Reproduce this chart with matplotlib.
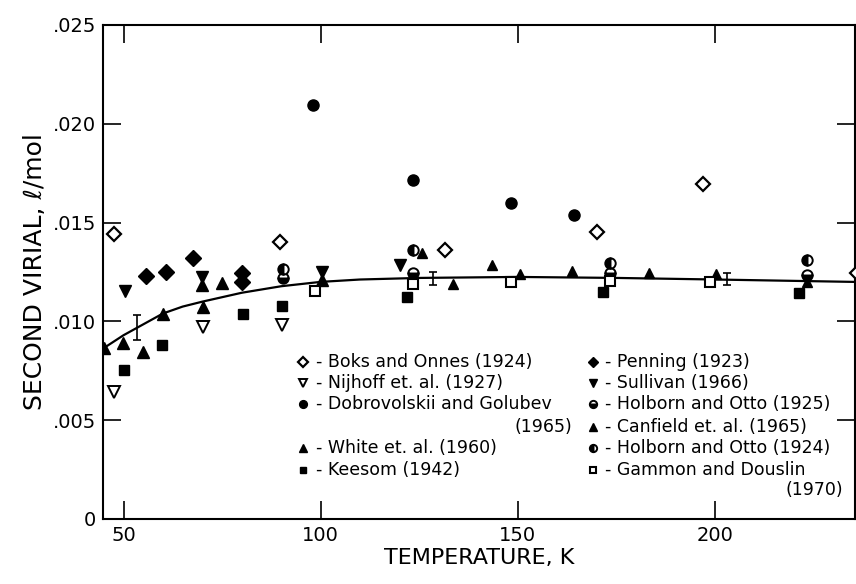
import numpy as np
import matplotlib.pyplot as plt

plt.rcParams['font.family'] = 'DejaVu Sans'

# smooth curve
curve_T = [45, 50, 55, 60, 65, 70, 80, 90, 100, 110, 125, 150, 175, 200, 235]
curve_B = [0.00865, 0.0093, 0.00985, 0.0104, 0.01075, 0.0110, 0.01145, 0.01178,
           0.0120, 0.01212, 0.0122, 0.01225, 0.0122, 0.01212, 0.0120]

boks_T = [47.5, 89.6, 131.5, 170, 197, 236]
boks_B = [0.01442, 0.0140, 0.01361, 0.01452, 0.01695, 0.01245]

nijhoff_T = [47.7, 70.1, 90.1]
nijhoff_B = [0.00643, 0.00972, 0.00982]

dobro_T = [98, 123.4, 148.2, 164.2]
dobro_B = [0.02095, 0.01715, 0.0160, 0.0154]

white_T = [45, 49.8, 54.9, 59.9, 69.8, 70.1, 75.1, 100.3]
white_B = [0.00865, 0.0089, 0.00845, 0.01037, 0.01184, 0.01073, 0.01194, 0.0121]

keesom_T = [50, 59.7, 80.2, 90.1, 121.8, 171.6, 221.3]
keesom_B = [0.00754, 0.0088, 0.01037, 0.01078, 0.01123, 0.01149, 0.01144]

penning_T = [55.8, 60.9, 67.5, 80, 80]
penning_B = [0.0123, 0.0125, 0.0132, 0.01245, 0.0120]

sullivan_T = [50.5, 69.8, 100.3, 120]
sullivan_B = [0.01155, 0.01225, 0.0125, 0.01285]

holb25_T = [90.4, 123.4, 173.3, 223.4]
holb25_B = [0.0122, 0.01245, 0.01245, 0.01235]

canfield_T = [125.6, 133.5, 143.4, 150.5, 163.7, 183.2, 200.2, 223.4]
canfield_B = [0.01346, 0.0119, 0.01285, 0.0124, 0.01255, 0.01245, 0.0124, 0.0120]

holb24_T = [90.4, 123.4, 173.3, 223.4]
holb24_B = [0.01265, 0.01361, 0.01295, 0.0131]

gammon_T = [98.5, 123.4, 148.2, 173.3, 198.7]
gammon_B = [0.01154, 0.0119, 0.0120, 0.01204, 0.0120]

err_T = [53.3, 128.4, 203]
err_lo = [0.00906, 0.01184, 0.01184]
err_hi = [0.01032, 0.0125, 0.01245]

xticks = [50, 100, 150, 200]
yticks = [0, 0.005, 0.010, 0.015, 0.020, 0.025]
ytick_labels = ['0', '.005', '.010', '.015', '.020', '.025']

fig = plt.figure(figsize=(8.56, 5.84), dpi=100)
ax = fig.add_axes([103/856, 1 - 519/584, 752/856, 494/584])

ax.plot(curve_T, curve_B, color='black', lw=1.6, zorder=2)

k = 'black'
styles = [
    (boks_T, boks_B, dict(marker='D', ms=7.5, mfc='white', mec=k, mew=1.6), 'Boks and Onnes (1924)'),
    (nijhoff_T, nijhoff_B, dict(marker='v', ms=8, mfc='white', mec=k, mew=1.4), 'Nijhoff et. al. (1927)'),
    (dobro_T, dobro_B, dict(marker='o', ms=8, mfc=k, mec=k), 'Dobrovolskii and Golubev'),
    (white_T, white_B, dict(marker='^', ms=9, mfc=k, mec=k), 'White et. al. (1960)'),
    (keesom_T, keesom_B, dict(marker='s', ms=7, mfc=k, mec=k), 'Keesom (1942)'),
    (penning_T, penning_B, dict(marker='D', ms=8, mfc=k, mec=k), 'Penning (1923)'),
    (sullivan_T, sullivan_B, dict(marker='v', ms=9, mfc=k, mec=k), 'Sullivan (1966)'),
    (holb25_T, holb25_B, dict(marker='o', ms=7.5, fillstyle='bottom', mfc=k, mfcalt='white', mec=k, mew=1.4), 'Holborn and Otto (1925)'),
    (canfield_T, canfield_B, dict(marker='^', ms=7.5, mfc=k, mec=k), 'Canfield et. al. (1965)'),
    (holb24_T, holb24_B, dict(marker='o', ms=7.5, fillstyle='left', mfc=k, mfcalt='white', mec=k, mew=1.4), 'Holborn and Otto (1924)'),
    (gammon_T, gammon_B, dict(marker='s', ms=7, mfc='white', mec=k, mew=1.5), 'Gammon and Douslin'),
]
for T, B, st, lab in styles:
    ax.plot(T, B, ls='none', zorder=3, **st)

ax.errorbar(err_T, [(a + b) / 2 for a, b in zip(err_lo, err_hi)],
            yerr=[[(b - a) / 2 for a, b in zip(err_lo, err_hi)]] * 2,
            fmt='none', ecolor=k, elinewidth=1.2, capsize=3, capthick=1.2, zorder=3)

ax.set_xlim(44.8, 235.5)
ax.set_ylim(0, 0.025)
ax.set_xticks(xticks)
ax.set_xticklabels([str(t) for t in xticks], fontsize=14)
ax.set_yticks(yticks)
ax.set_yticklabels(ytick_labels, fontsize=14)
ax.tick_params(direction='in', length=13, width=1.2, top=True, right=True, pad=5)
for sp in ax.spines.values():
    sp.set_linewidth(1.5)

ax.set_xlabel('TEMPERATURE, K', fontsize=16, labelpad=2)
ax.set_ylabel('SECOND VIRIAL, ℓ/mol', fontsize=18, labelpad=4)

# hand drawn legend, two columns
fs = 12.5
rows = [0.3178, 0.2753, 0.2328, 0.1437, 0.0992]
rows_r = [0.3178, 0.2753, 0.2328, 0.1862, 0.1437, 0.0992]
left = styles[:5]
right = styles[5:]
for (T, B, st, lab), y in zip(left, rows):
    s = dict(st)
    s['ms'] = st['ms'] * 0.7
    ax.plot([0.266], [y], transform=ax.transAxes, ls='none', clip_on=False, **s)
    ax.text(0.283, y, '- ' + lab, transform=ax.transAxes, fontsize=fs, va='center', ha='left')
ax.text(0.6237, 0.1862, '(1965)', transform=ax.transAxes, fontsize=fs, va='center', ha='right')
for (T, B, st, lab), y in zip(right, rows_r):
    s = dict(st)
    s['ms'] = st['ms'] * 0.7
    ax.plot([0.6516], [y], transform=ax.transAxes, ls='none', clip_on=False, **s)
    ax.text(0.668, y, '- ' + lab, transform=ax.transAxes, fontsize=fs, va='center', ha='left')
ax.text(0.984, 0.0587, '(1970)', transform=ax.transAxes, fontsize=fs, va='center', ha='right')

fig.savefig('out.png', dpi=100)
